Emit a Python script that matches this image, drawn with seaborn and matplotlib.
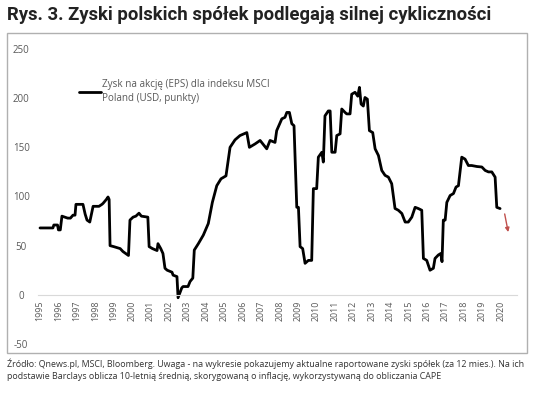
import matplotlib
matplotlib.use("Agg")
import matplotlib.pyplot as plt
import seaborn as sns
import pandas as pd
from matplotlib.patches import Rectangle

# --- DANE ---
LAT = [1995.00, 1995.70, 1995.75, 1995.95, 1996.00, 1996.10, 1996.19, 1996.50, 1996.65, 1996.79,
       1996.90, 1996.95, 1997.33, 1997.45, 1997.55, 1997.70, 1997.88, 1998.20, 1998.36, 1998.42,
       1998.60, 1998.69, 1998.75, 1998.80, 1999.00, 1999.35, 1999.50, 1999.65, 1999.80, 1999.88,
       2000.05, 2000.20, 2000.37, 2000.50, 2000.85, 2000.92, 2001.10, 2001.35, 2001.40, 2001.55,
       2001.67, 2001.78, 2001.90, 2002.16, 2002.22, 2002.43, 2002.49, 2002.69, 2002.76, 2003.03,
       2003.14, 2003.29, 2003.37, 2003.59, 2003.86, 2004.13, 2004.35, 2004.59, 2004.82, 2005.09,
       2005.31, 2005.58, 2005.85, 2006.22, 2006.36, 2006.67, 2006.94, 2007.30, 2007.48, 2007.75,
       2007.84, 2008.12, 2008.29, 2008.39, 2008.53, 2008.66, 2008.78, 2008.93, 2009.02, 2009.11,
       2009.25, 2009.38, 2009.56, 2009.74, 2009.83, 2010.01, 2010.10, 2010.29, 2010.37, 2010.46,
       2010.64, 2010.74, 2010.83, 2011.01, 2011.10, 2011.28, 2011.37, 2011.55, 2011.64, 2011.82,
       2011.91, 2012.09, 2012.24, 2012.33, 2012.42, 2012.54, 2012.63, 2012.76, 2012.87, 2013.05,
       2013.18, 2013.36, 2013.54, 2013.72, 2013.90, 2014.08, 2014.26, 2014.44, 2014.63, 2014.81,
       2014.98, 2015.17, 2015.35, 2015.53, 2015.71, 2015.80, 2015.98, 2016.16, 2016.34, 2016.43,
       2016.61, 2016.74, 2016.81, 2016.88, 2016.98, 2017.07, 2017.25, 2017.43, 2017.57, 2017.70,
       2017.88, 2018.06, 2018.24, 2018.42, 2018.70, 2018.97, 2019.15, 2019.33, 2019.51, 2019.69,
       2019.78, 2019.96]
EPS = [68, 68, 71, 71, 66, 66, 80, 78, 78, 81,
       81, 92, 92, 82, 76, 74, 90, 90, 92, 93,
       97, 99.5, 97, 50, 49, 47, 44, 42, 40, 76,
       79, 80, 83, 80, 79, 49, 47, 45, 52, 47,
       42, 27, 25, 23, 20, 18.5, -3, 7, 8.4, 8.4,
       13.5, 17, 45.5, 52, 60.7, 72.5, 94, 111, 118, 121,
       150, 157.6, 162, 165, 150, 153.5, 157, 148.5, 157, 155,
       167, 179, 180.5, 185.5, 185.5, 174, 172, 89, 89, 49,
       47, 32, 35, 35, 108, 108, 140, 145, 135, 182,
       187, 187, 145, 145, 162, 163.7, 189, 185.5, 184, 184,
       204, 206, 202, 211, 194, 192, 200.7, 199, 167, 165,
       148.5, 141.7, 126.5, 121.5, 119.7, 113, 87.8, 86, 82.7, 74,
       74, 79, 89, 87.7, 86, 37, 35, 25, 27, 37,
       40.5, 42, 33.7, 76, 76, 94, 101, 103, 109.6, 111,
       140, 138, 131.5, 131.5, 130.5, 130, 126.5, 125, 125, 119.7,
       89, 87.7]

ROKI = list(range(1995, 2021))
Y_TICKS = [-50, 0, 50, 100, 150, 200, 250]

# strzałka prognozy (spadek)
STRZALKA_X = [2020.18, 2020.43]
STRZALKA_Y = [85, 61]

TYTUL = "Rys. 3. Zyski polskich spółek podlegają silnej cykliczności"
LEGENDA = "Zysk na akcję (EPS) dla indeksu MSCI\nPoland (USD, punkty)"
ZRODLO = ("Źródło: Qnews.pl, MSCI, Bloomberg. Uwaga - na wykresie pokazujemy aktualne raportowane zyski spółek (za 12 mies.). Na ich\n"
          "podstawie Barclays oblicza 10-letnią średnią, skorygowaną o inflację, wykorzystywaną do obliczania CAPE")

SZARY = "#595959"

sns.set_style("white")
plt.rcParams['font.family'] = ['Open Sans', 'DejaVu Sans']

df = pd.DataFrame({"rok": LAT, "eps": EPS})

W, H = 536, 394
fig = plt.figure(figsize=(W / 100, H / 100), dpi=100)
ax = fig.add_axes([33 / W, (H - 353) / H, (527 - 33) / W, (353 - 32.7) / H])

sns.lineplot(data=df, x="rok", y="eps", color="black", linewidth=2.0,
             label=LEGENDA, ax=ax, sort=False)

ax.annotate("", xy=(STRZALKA_X[1], STRZALKA_Y[1]), xytext=(STRZALKA_X[0], STRZALKA_Y[0]),
            arrowprops=dict(arrowstyle="-|>", color="#c0504d", lw=1.0, mutation_scale=6))

ax.set_xlim(1994.62, 2021.42)
ax.set_ylim(-59.2, 266.6)

for s in ["top", "right", "left"]:
    ax.spines[s].set_visible(False)
ax.spines["bottom"].set_position(("data", 0))
ax.spines["bottom"].set_bounds(1994.9, 2020.9)
ax.spines["bottom"].set_color("#d9d9d9")
ax.spines["bottom"].set_linewidth(0.8)

ax.set_xticks(ROKI)
ax.set_xticklabels([str(r) for r in ROKI], rotation=90, fontsize=6.4, color=SZARY)
ax.set_yticks(Y_TICKS)
ax.set_yticklabels([str(v) for v in Y_TICKS], fontsize=7.0, color=SZARY, ha="center")
ax.tick_params(axis="x", length=0, pad=4)
ax.tick_params(axis="y", length=0, pad=8.5)
ax.set_xlabel("")
ax.set_ylabel("")

leg = ax.legend(loc="upper left", bbox_to_anchor=(0.093, 0.855), frameon=False,
                fontsize=7.1, handlelength=2.2, handletextpad=0.1, borderpad=0,
                borderaxespad=0)
for t in leg.get_texts():
    t.set_color(SZARY)
    t.set_linespacing(1.3)

# ramka wykresu
fig.patches.append(Rectangle((7 / W, (H - 353) / H), (527 - 7) / W, (353 - 32.7) / H,
                             transform=fig.transFigure, fill=False,
                             edgecolor="#b0b0b0", linewidth=1.0))

fig.text(7 / W, 1 - 15 / H, TYTUL, fontsize=13.3, fontweight="bold", color="#222222",
         va="center", ha="left", family=["Roboto", "DejaVu Sans"])
fig.text(7 / W, 1 - 370 / H, ZRODLO, fontsize=6.4, color="#333333",
         va="center", ha="left", linespacing=1.45)

fig.savefig("out.png", dpi=100)
